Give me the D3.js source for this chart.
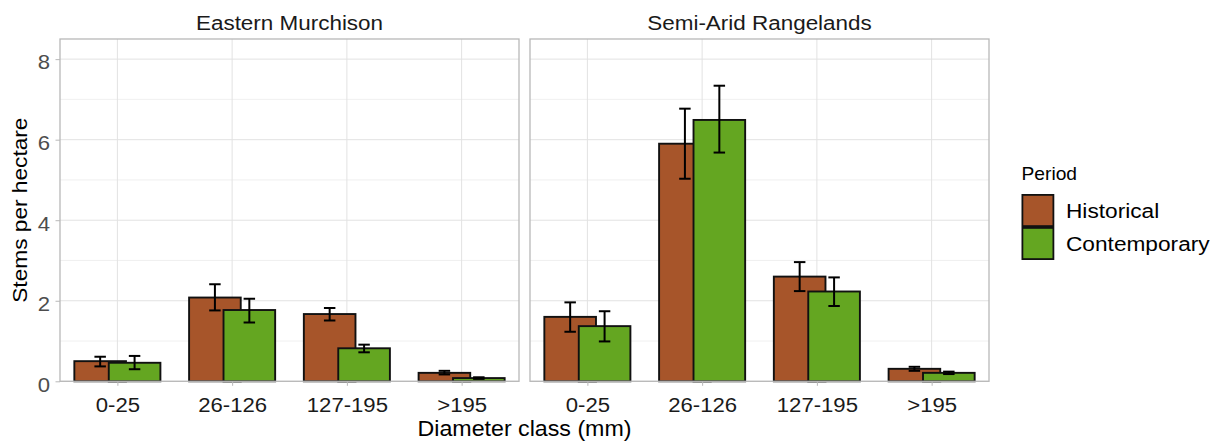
<!DOCTYPE html>
<html>
<head>
<meta charset="utf-8">
<script src="https://cdn.jsdelivr.net/npm/d3@7"></script>
<style>
  html, body { margin: 0; padding: 0; background: #ffffff; }
  svg { display: block; font-family: "Liberation Sans", Arial, sans-serif; }
</style>
</head>
<body>
<svg id="chart" width="1223" height="443"></svg>
<script>
// Diameter classes, regions and periods
const categories = ["0-25", "26-126", "127-195", ">195"];
const regions = ["Eastern Murchison", "Semi-Arid Rangelands"];
const periods = ["Historical", "Contemporary"];
const yTicks = [0, 2, 4, 6, 8];

// Mean stems per hectare with error-bar bounds, by region and period
const emHistorical     = [0.50, 2.08, 1.67, 0.21];
const emHistoricalLo   = [0.37, 1.76, 1.51, 0.17];
const emHistoricalHi   = [0.61, 2.41, 1.82, 0.26];
const emContemporary   = [0.46, 1.77, 0.82, 0.08];
const emContemporaryLo = [0.30, 1.46, 0.72, 0.06];
const emContemporaryHi = [0.63, 2.05, 0.91, 0.10];

const sarHistorical     = [1.60, 5.90, 2.60, 0.31];
const sarHistoricalLo   = [1.23, 5.03, 2.24, 0.26];
const sarHistoricalHi   = [1.96, 6.77, 2.96, 0.36];
const sarContemporary   = [1.37, 6.49, 2.23, 0.21];
const sarContemporaryLo = [0.99, 5.68, 1.87, 0.18];
const sarContemporaryHi = [1.74, 7.34, 2.58, 0.24];

const periodColors = ["#a7552a", "#64a621"];

// Assemble the records the marks are drawn from
function rows(region, period, mean, lo, hi) {
  return categories.map((c, i) => ({ region, period, cls: c, value: mean[i], lo: lo[i], hi: hi[i] }));
}
const data = [
  ...rows(regions[0], periods[0], emHistorical, emHistoricalLo, emHistoricalHi),
  ...rows(regions[0], periods[1], emContemporary, emContemporaryLo, emContemporaryHi),
  ...rows(regions[1], periods[0], sarHistorical, sarHistoricalLo, sarHistoricalHi),
  ...rows(regions[1], periods[1], sarContemporary, sarContemporaryLo, sarContemporaryHi)
];

const svg = d3.select("#chart");
const SX = 1.08; // horizontal glyph stretch

const panelTop = 39, panelBottom = 381.3;
const panelW = 459;
const panelLeft = [60, 530];

const y = d3.scaleLinear().domain([0, 8.5]).range([panelBottom, panelTop]);
const x = d3.scalePoint().domain(categories).range([0, panelW]).padding(0.5);
const step = x.step();
const xDodge = d3.scaleBand().domain(periods).range([-0.3 * step, 0.3 * step]).padding(0);
const barW = 0.45 * step;
const capW = 0.1 * step;
const color = d3.scaleOrdinal().domain(periods).range(periodColors);

regions.forEach((region, ri) => {
  const g = svg.append("g").attr("transform", `translate(${panelLeft[ri]},0)`);

  // minor and major grid
  g.append("g").selectAll("line").data([1, 3, 5, 7]).join("line")
    .attr("x1", 0).attr("x2", panelW)
    .attr("y1", d => y(d)).attr("y2", d => y(d))
    .attr("stroke", "#ececec").attr("stroke-width", 0.8);
  g.append("g").selectAll("line").data(yTicks).join("line")
    .attr("x1", 0).attr("x2", panelW)
    .attr("y1", d => y(d)).attr("y2", d => y(d))
    .attr("stroke", "#e2e2e2").attr("stroke-width", 1);
  g.append("g").selectAll("line").data(categories).join("line")
    .attr("x1", d => x(d)).attr("x2", d => x(d))
    .attr("y1", panelTop).attr("y2", panelBottom)
    .attr("stroke", "#e2e2e2").attr("stroke-width", 1);

  const rd = data.filter(d => d.region === region);

  // bars: historical first so contemporary sits on top
  periods.forEach(p => {
    g.append("g").selectAll("rect").data(rd.filter(d => d.period === p)).join("rect")
      .attr("x", d => x(d.cls) + xDodge(d.period) + xDodge.bandwidth() / 2 - barW / 2)
      .attr("width", barW)
      .attr("y", d => y(d.value))
      .attr("height", d => y(0) - y(d.value))
      .attr("fill", d => color(d.period))
      .attr("stroke", "#111")
      .attr("stroke-width", 1.9);
  });

  // error bars
  const eb = g.append("g").selectAll("g").data(rd).join("g")
    .attr("transform", d => `translate(${x(d.cls) + xDodge(d.period) + xDodge.bandwidth() / 2},0)`);
  eb.append("line").attr("x1", 0).attr("x2", 0)
    .attr("y1", d => y(d.lo)).attr("y2", d => y(d.hi))
    .attr("stroke", "#000").attr("stroke-width", 2);
  eb.append("line").attr("x1", -capW / 2).attr("x2", capW / 2)
    .attr("y1", d => y(d.hi)).attr("y2", d => y(d.hi))
    .attr("stroke", "#000").attr("stroke-width", 2);
  eb.append("line").attr("x1", -capW / 2).attr("x2", capW / 2)
    .attr("y1", d => y(d.lo)).attr("y2", d => y(d.lo))
    .attr("stroke", "#000").attr("stroke-width", 2);

  // panel border
  g.append("rect").attr("x", 0).attr("y", panelTop)
    .attr("width", panelW).attr("height", panelBottom - panelTop)
    .attr("fill", "none").attr("stroke", "#b8b8b8").attr("stroke-width", 1.3);

  // x axis
  const xa = g.append("g").attr("transform", `translate(0,${panelBottom})`)
    .call(d3.axisBottom(x).tickSize(4.5));
  xa.select(".domain").remove();
  xa.selectAll(".tick line").attr("stroke", "#b8b8b8").attr("stroke-width", 1);
  xa.selectAll(".tick text")
    .attr("y", 0).attr("dy", null)
    .attr("transform", `translate(0,31) scale(${SX},1)`)
    .attr("font-size", 20.5).attr("fill", "#1a1a1a")
    .attr("font-family", "Liberation Sans, Arial, sans-serif");

  // y axis on the first panel only
  if (ri === 0) {
    const ya = g.append("g").call(d3.axisLeft(y).tickValues(yTicks).tickSize(4.5).tickFormat(d3.format("d")));
    ya.select(".domain").remove();
    ya.selectAll(".tick line").attr("stroke", "#b8b8b8").attr("stroke-width", 1);
    ya.selectAll(".tick text")
      .attr("x", 0).attr("dy", null).attr("y", 0)
      .attr("transform", `translate(-10,9.8) scale(${SX},1)`)
      .attr("text-anchor", "end")
      .attr("font-size", 20.5).attr("fill", "#4d4d4d")
      .attr("font-family", "Liberation Sans, Arial, sans-serif");
  }

  // facet title
  g.append("text")
    .attr("transform", `translate(${panelW / 2},29.5) scale(${SX},1)`)
    .attr("text-anchor", "middle").attr("font-size", 20.8).attr("fill", "#1a1a1a")
    .text(region);
});

// axis titles
svg.append("text")
  .attr("transform", `translate(${(panelLeft[0] + panelLeft[1] + panelW) / 2},435.5) scale(${SX},1)`)
  .attr("text-anchor", "middle").attr("font-size", 21.5).attr("fill", "#000")
  .text("Diameter class (mm)");
svg.append("text")
  .attr("transform", `translate(27,${(panelTop + panelBottom) / 2}) rotate(-90) scale(${SX},1)`)
  .attr("text-anchor", "middle").attr("font-size", 21).attr("fill", "#000")
  .text("Stems per hectare");

// legend
const lg = svg.append("g").attr("transform", "translate(1021.5,0)");
lg.append("text").attr("transform", `translate(0,180) scale(${SX},1)`)
  .attr("font-size", 17.8).attr("fill", "#000").text("Period");
const items = lg.selectAll("g.item").data(periods).join("g").attr("class", "item")
  .attr("transform", (d, i) => `translate(0,${194 + i * 33})`);
items.append("rect").attr("x", 0.9).attr("y", 0.9).attr("width", 31).attr("height", 31.2)
  .attr("fill", d => color(d)).attr("stroke", "#111").attr("stroke-width", 1.8);
items.append("text").attr("transform", `translate(44.5,23.5) scale(${SX},1)`)
  .attr("font-size", 21).attr("fill", "#000").text(d => d);
</script>
</body>
</html>
